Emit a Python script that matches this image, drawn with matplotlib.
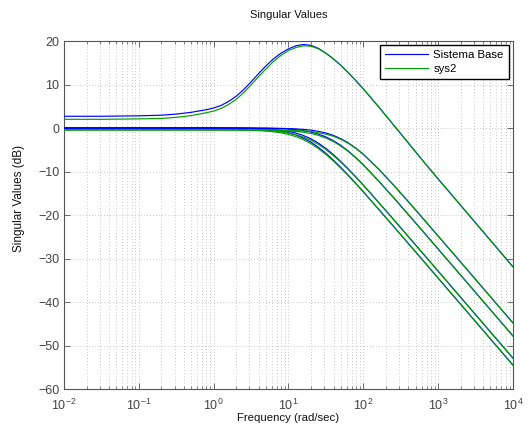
import matplotlib
matplotlib.use("Agg")
import matplotlib.pyplot as plt
from matplotlib.ticker import LogLocator, FixedLocator, NullFormatter, LogFormatterSciNotation

plt.rcParams['font.family'] = ['Liberation Sans', 'DejaVu Sans']
plt.rcParams['mathtext.default'] = 'regular'

# Frequencies (rad/sec)
freq = [0.01, 0.0316, 0.1, 0.2, 0.316, 0.5, 0.794, 1.0, 1.26, 1.58, 2.0, 2.51,
        3.16, 3.98, 5.01, 6.31, 7.94, 10.0, 12.6, 15.8, 20.0, 25.1, 31.6, 39.8,
        50.1, 63.1, 79.4, 100.0, 158.0, 251.0, 398.0, 631.0, 1000.0, 3162.0, 10000.0]

# Sistema Base singular values (dB)
base_sv1 = [2.7, 2.7, 2.8, 2.95, 3.2, 3.6, 4.2, 4.6, 5.2, 6.1, 7.3, 8.8,
            10.6, 12.5, 14.3, 15.9, 17.2, 18.2, 18.9, 19.2, 19.0, 18.3, 17.2, 15.9,
            14.4, 12.7, 10.9, 9.0, 5.0, 0.8, -3.4, -7.6, -11.7, -21.8, -31.9]
base_sv2 = [0.0, 0.0, 0.0, 0.0, 0.0, 0.0, 0.0, 0.0, 0.0, 0.0, 0.0, -0.01,
            -0.01, -0.02, -0.03, -0.05, -0.08, -0.13, -0.20, -0.32, -0.49, -0.76, -1.15, -1.70,
            -2.45, -3.43, -4.63, -6.04, -9.34, -13.02, -16.89, -20.83, -24.82, -34.8, -44.8]
base_sv3 = [0.0, 0.0, 0.0, 0.0, 0.0, 0.0, 0.0, 0.0, 0.0, 0.0, -0.01, -0.02,
            -0.03, -0.04, -0.07, -0.10, -0.16, -0.25, -0.40, -0.61, -0.93, -1.40, -2.05, -2.91,
            -4.00, -5.31, -6.81, -8.47, -12.07, -15.91, -19.85, -23.82, -27.81, -37.8, -47.8]
base_sv4 = [0.0, 0.0, 0.0, 0.0, 0.0, 0.0, 0.0, -0.01, -0.01, -0.02, -0.03, -0.05,
            -0.08, -0.13, -0.21, -0.32, -0.50, -0.77, -1.17, -1.73, -2.49, -3.48, -4.70, -6.12,
            -7.71, -9.43, -11.24, -13.12, -16.99, -20.93, -24.92, -28.9, -32.9, -42.9, -52.9]
base_sv5 = [0.0, 0.0, 0.0, 0.0, 0.0, 0.0, -0.01, -0.01, -0.02, -0.03, -0.05, -0.08,
            -0.12, -0.19, -0.30, -0.46, -0.71, -1.08, -1.60, -2.33, -3.27, -4.44, -5.82, -7.38,
            -9.07, -10.87, -12.74, -14.65, -18.56, -22.52, -26.51, -30.5, -34.5, -44.5, -54.5]

# sys2 singular values (dB)
sys2_sv1 = [2.0, 2.0, 2.1, 2.2, 2.45, 2.85, 3.5, 3.9, 4.5, 5.4, 6.6, 8.1,
            9.9, 11.8, 13.6, 15.3, 16.7, 17.8, 18.5, 18.9, 18.8, 18.2, 17.2, 15.9,
            14.4, 12.7, 10.9, 9.0, 5.0, 0.8, -3.4, -7.6, -11.7, -21.8, -31.9]
sys2_sv2 = [-0.4, -0.4, -0.4, -0.4, -0.4, -0.4, -0.4, -0.4, -0.4, -0.4, -0.4, -0.41,
            -0.41, -0.42, -0.43, -0.45, -0.48, -0.53, -0.58, -0.67, -0.81, -1.06, -1.40, -1.90,
            -2.60, -3.53, -4.68, -6.04, -9.34, -13.02, -16.89, -20.83, -24.82, -34.8, -44.8]
sys2_sv3 = [-0.4, -0.4, -0.4, -0.4, -0.4, -0.4, -0.4, -0.4, -0.4, -0.4, -0.41, -0.42,
            -0.43, -0.44, -0.47, -0.50, -0.56, -0.65, -0.78, -0.96, -1.25, -1.70, -2.30, -3.11,
            -4.15, -5.41, -6.86, -8.47, -12.07, -15.91, -19.85, -23.82, -27.81, -37.8, -47.8]
sys2_sv4 = [-0.4, -0.4, -0.4, -0.4, -0.4, -0.4, -0.4, -0.41, -0.41, -0.42, -0.43, -0.45,
            -0.48, -0.53, -0.61, -0.72, -0.90, -1.17, -1.55, -2.08, -2.81, -3.78, -4.95, -6.32,
            -7.86, -9.53, -11.29, -13.12, -16.99, -20.93, -24.92, -28.9, -32.9, -42.9, -52.9]
sys2_sv5 = [-0.4, -0.4, -0.4, -0.4, -0.4, -0.4, -0.41, -0.41, -0.42, -0.43, -0.45, -0.48,
            -0.52, -0.59, -0.70, -0.86, -1.11, -1.48, -1.98, -2.68, -3.59, -4.74, -6.07, -7.58,
            -9.22, -10.97, -12.79, -14.65, -18.56, -22.52, -26.51, -30.5, -34.5, -44.5, -54.5]

base_curves = [base_sv1, base_sv2, base_sv3, base_sv4, base_sv5]
sys2_curves = [sys2_sv1, sys2_sv2, sys2_sv3, sys2_sv4, sys2_sv5]
legend_labels = ['Sistema Base', 'sys2']
x_ticks = [1e-2, 1e-1, 1e0, 1e1, 1e2, 1e3, 1e4]
y_ticks = [-60, -50, -40, -30, -20, -10, 0, 10, 20]

blue = '#0000ff'
green = '#00a000'

fig = plt.figure(figsize=(5.3, 4.25), dpi=100)
ax = fig.add_axes([0.1208, 0.0847, 0.847, 0.8188])

for i, c in enumerate(base_curves):
    ax.semilogx(freq, c, color=blue, lw=0.85, label=legend_labels[0] if i == 0 else None, zorder=3)
for i, c in enumerate(sys2_curves):
    ax.semilogx(freq, c, color=green, lw=0.85, label=legend_labels[1] if i == 0 else None, zorder=4)

ax.set_xlim(1e-2, 1e4)
ax.set_ylim(-60, 20)
ax.yaxis.set_major_locator(FixedLocator(y_ticks))
ax.xaxis.set_major_locator(FixedLocator(x_ticks))
ax.xaxis.set_major_formatter(LogFormatterSciNotation(base=10))
ax.xaxis.set_minor_locator(LogLocator(base=10, subs=range(2, 10), numticks=100))
ax.xaxis.set_minor_formatter(NullFormatter())

gridc = '#a8a8a8'
ax.grid(True, which='major', axis='both', color=gridc, linestyle=(0, (1, 3)), lw=0.55)
ax.grid(True, which='minor', axis='x', color=gridc, linestyle=(0, (1, 3)), lw=0.55)

ax.tick_params(which='both', direction='in', top=True, right=True, colors='#555555',
               labelcolor='#444444', labelsize=9)
ax.tick_params(axis='x', which='major', pad=6)
ax.tick_params(which='major', length=4, width=0.6)
ax.tick_params(which='minor', length=2, width=0.5)
for s in ax.spines.values():
    s.set_color('#555555')
    s.set_linewidth(0.8)

fig.text(288.5 / 530, 1 - 15 / 425, 'Singular Values', fontsize=8, color='#111111',
         ha='center', va='center')
ax.set_xlabel('Frequency (rad/sec)', fontsize=8.2, color='#111111')
ax.xaxis.set_label_coords(0.5, (389 - 418) / 348)
ax.xaxis.label.set_va('center')
ax.set_ylabel('Singular Values (dB)', fontsize=8.5, color='#111111')
ax.yaxis.set_label_coords((19 - 64) / 449, (389 - 198) / 348)
ax.yaxis.label.set_va('center')

leg = ax.legend(loc='upper right', fontsize=8.2, frameon=True, fancybox=False,
                borderaxespad=0.35, handlelength=3.8, handletextpad=0.45,
                borderpad=0.45, labelspacing=0.35)
leg.get_frame().set_edgecolor('black')
leg.get_frame().set_linewidth(1.0)
leg.get_frame().set_alpha(1.0)

fig.savefig('out.png', dpi=100)
